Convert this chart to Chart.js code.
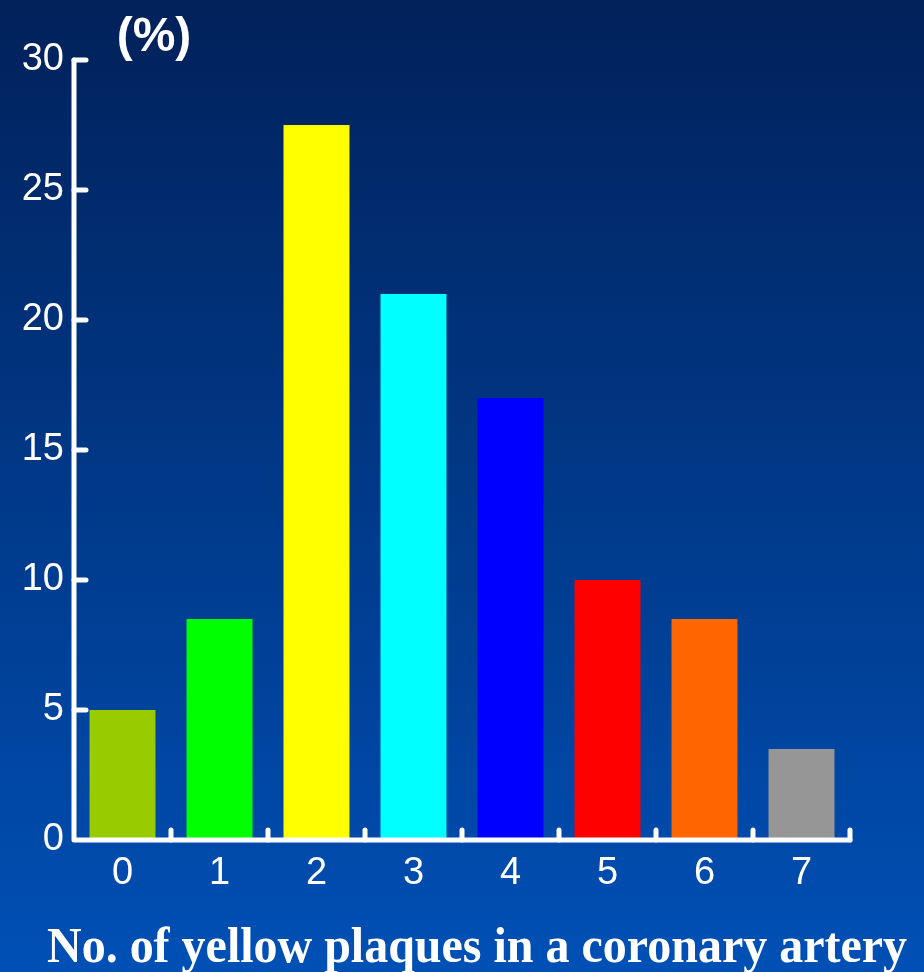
<!doctype html>
<html lang="en">
<head>
<meta charset="utf-8">
<title>Yellow plaques per coronary artery</title>
<script src="https://cdn.jsdelivr.net/npm/chart.js@4/dist/chart.umd.min.js"></script>
<style>
  html, body { margin: 0; padding: 0; background: #00338a; }
  #wrap { width: 924px; height: 972px; }
</style>
</head>
<body>
<div id="wrap"><canvas id="plaques" width="924" height="972"></canvas></div>

<script>
// number of yellow plaques per artery and share of arteries (%)
var categories = ['0', '1', '2', '3', '4', '5', '6', '7'];
var percents   = [5, 8.5, 27.5, 21, 17, 10, 8.5, 3.5];
var barColors  = ['#99cc00', '#00ff00', '#ffff00', '#00ffff', '#0000ff', '#ff0000', '#ff6600', '#969696'];
var yTicks     = [0, 5, 10, 15, 20, 25, 30];

var unitLabel  = '(%)';
var axisTitle  = 'No. of yellow plaques in a coronary artery';

// slide-style blue gradient behind everything
var backdrop = {
  id: 'backdrop',
  beforeDraw: function(chart) {
    var ctx = chart.ctx;
    var g = ctx.createLinearGradient(0, 0, 0, chart.height);
    g.addColorStop(0, '#01215a');
    g.addColorStop(1, '#0050b6');
    ctx.save();
    ctx.fillStyle = g;
    ctx.fillRect(0, 0, chart.width, chart.height);
    ctx.restore();
  }
};

// white axis lines with inward ticks, unit label and the x title
var axes = {
  id: 'axes',
  afterDatasetsDraw: function(chart) {
    var ctx = chart.ctx, a = chart.chartArea;
    var x = chart.scales.x, y = chart.scales.y;
    var step = x.getPixelForValue(1) - x.getPixelForValue(0);
    ctx.save();
    ctx.strokeStyle = '#ffffff';
    ctx.lineWidth = 5;
    ctx.lineCap = 'round';
    ctx.lineJoin = 'round';

    ctx.beginPath();
    ctx.moveTo(a.left, y.getPixelForValue(30));
    ctx.lineTo(a.left, a.bottom);
    ctx.lineTo(a.right, a.bottom);
    ctx.stroke();

    yTicks.forEach(function(v) {
      if (v === 0) return;
      var py = y.getPixelForValue(v);
      ctx.beginPath();
      ctx.moveTo(a.left, py);
      ctx.lineTo(a.left + 12, py);
      ctx.stroke();
    });

    // separators after each category, pointing up
    for (var i = 0; i < categories.length; i++) {
      var px = x.getPixelForValue(i) + step / 2;
      ctx.beginPath();
      ctx.moveTo(px, a.bottom);
      ctx.lineTo(px, a.bottom - 10);
      ctx.stroke();
    }

    ctx.fillStyle = '#ffffff';
    ctx.font = 'bold 48px "Liberation Sans", Arial, sans-serif';
    ctx.textAlign = 'center';
    ctx.textBaseline = 'alphabetic';
    ctx.fillText(unitLabel, 154, 51);

    // condensed serif title under the axis
    ctx.font = 'bold 50px "Liberation Serif", "Times New Roman", serif';
    var w = ctx.measureText(axisTitle).width;
    ctx.translate(477, 962);
    ctx.scale(860 / w, 1);
    ctx.fillText(axisTitle, 0, 0);
    ctx.restore();
  }
};

new Chart(document.getElementById('plaques'), {
  type: 'bar',
  data: {
    labels: categories,
    datasets: [{
      data: percents,
      backgroundColor: barColors,
      borderWidth: 0,
      categoryPercentage: 1,
      barPercentage: 0.68
    }]
  },
  options: {
    responsive: false,
    animation: false,
    layout: { padding: { top: 60, right: 74, left: 0, bottom: 0 } },
    plugins: {
      legend: { display: false },
      tooltip: { enabled: false }
    },
    scales: {
      x: {
        grid: { display: false, drawTicks: false },
        border: { display: false },
        ticks: {
          color: '#ffffff',
          font: { family: '"Liberation Sans", Arial, sans-serif', size: 38 },
          padding: 11
        },
        afterFit: function(s) { s.height = 132; }
      },
      y: {
        min: 0,
        max: 30,
        afterBuildTicks: function(s) { s.ticks = yTicks.map(function(v) { return { value: v }; }); },
        grid: { display: false, drawTicks: false },
        border: { display: false },
        ticks: {
          color: '#ffffff',
          font: { family: '"Liberation Sans", Arial, sans-serif', size: 38 },
          padding: 10
        },
        afterFit: function(s) { s.width = 74; }
      }
    }
  },
  plugins: [backdrop, axes]
});
</script>
</body>
</html>
